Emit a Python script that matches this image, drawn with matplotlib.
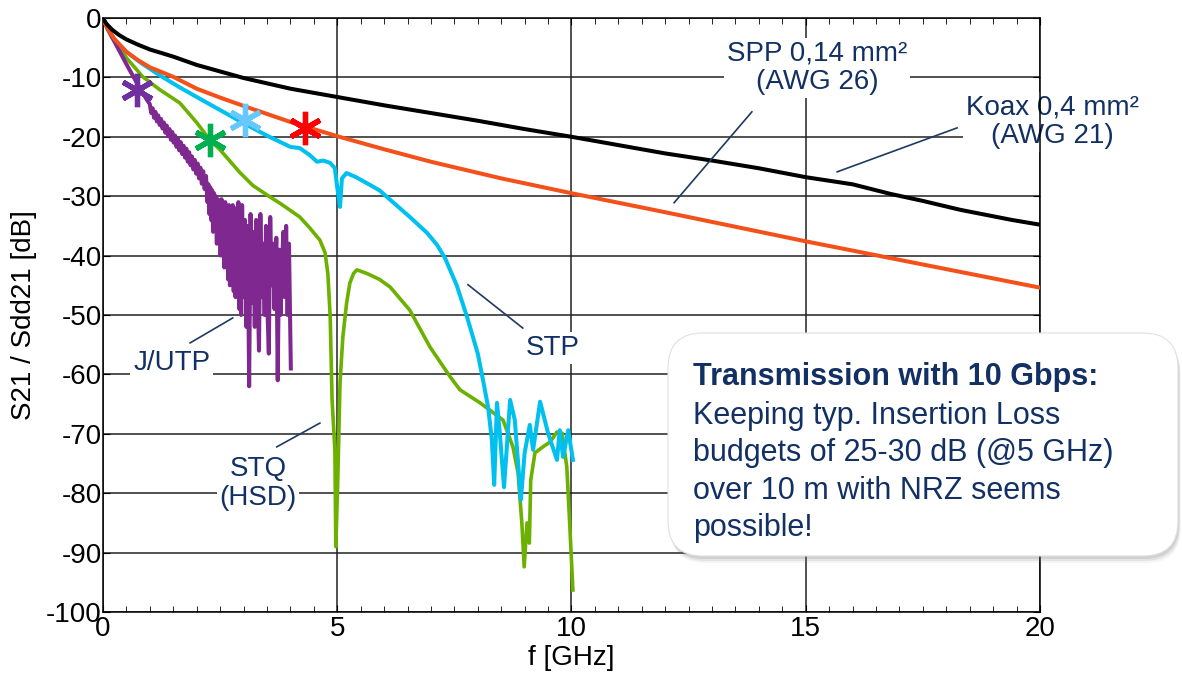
import matplotlib
matplotlib.use('Agg')
import matplotlib.pyplot as plt
import matplotlib.patches as mpatches
from matplotlib.transforms import IdentityTransform
from matplotlib.ticker import MultipleLocator

plt.rcParams['font.family'] = ['Liberation Sans', 'DejaVu Sans']
plt.rcParams['axes.unicode_minus'] = False

# Koax 0,4 mm² (AWG 21)
koax_f = [0, 0.05, 0.1, 0.2, 0.35, 0.5, 0.75, 1.0, 1.5, 2.0, 2.5, 3.0, 3.5, 4.0, 5, 6, 7, 8, 9, 10, 11, 12,
          13, 14, 15, 16, 16.8, 17.5, 18.3, 19.4, 20]
koax_db = [0, -0.7, -1.2, -2.0, -2.9, -3.6, -4.5, -5.3, -6.5, -7.9, -9.0, -10.1, -11.0, -11.9, -13.3, -14.7,
           -16.0, -17.3, -18.7, -20.0, -21.4, -22.8, -24.0, -25.3, -26.8, -28.0, -29.6, -30.8, -32.3, -34.0,
           -34.8]

# SPP 0,14 mm² (AWG 26)
spp_f = [0, 0.05, 0.1, 0.25, 0.5, 0.75, 1.0, 1.5, 2, 2.5, 3, 4, 5, 6, 7, 8.5, 10, 12, 15, 17.5, 20]
spp_db = [0, -1.0, -1.8, -3.6, -5.7, -7.1, -8.3, -9.9, -11.9, -13.4, -14.8, -17.5, -19.9, -22.1, -24.2,
          -27.0, -29.5, -32.7, -37.6, -41.5, -45.4]

# STP
stp_f = [0, 0.1, 0.25, 0.5, 0.8, 1.2, 1.6, 2.0, 2.5, 3.0, 3.5, 4.0, 4.2, 4.4, 4.57, 4.7, 4.85, 4.95, 5.0,
         5.06, 5.1, 5.2, 5.4, 5.63, 5.9, 6.13, 6.55, 6.92, 7.13, 7.3, 7.55, 7.77, 8.0, 8.11, 8.22, 8.3,
         8.35, 8.41, 8.47, 8.56, 8.69, 8.79, 8.92, 9.0, 9.11, 9.18, 9.33, 9.5, 9.69, 9.75, 9.82, 9.93,
         10.03]
stp_db = [0, -1.8, -3.6, -5.7, -7.5, -9.6, -11.5, -13.3, -15.5, -17.7, -19.8, -21.7, -21.9, -23.0, -24.2,
          -24.0, -24.4, -25.3, -28.5, -31.8, -27.0, -26.1, -26.8, -27.8, -29.0, -30.6, -33.5, -36.2, -38.2,
          -40.4, -45.0, -50.3, -56.5, -60.9, -65.5, -71.0, -78.6, -64.8, -69.9, -79.0, -64.3, -67.7, -81.1,
          -73.2, -68.5, -72.7, -64.6, -69.9, -74.4, -69.4, -73.9, -69.4, -74.4]

# STQ (HSD)
stq_f = [0, 0.1, 0.2, 0.5, 0.85, 1.2, 1.64, 2.0, 2.28, 2.5, 2.92, 3.2, 3.56, 3.78, 4.0, 4.2, 4.42, 4.63,
         4.74, 4.8, 4.85, 4.89, 4.95, 4.97, 5.01, 5.06, 5.12, 5.2, 5.27, 5.35, 5.42, 5.63, 5.9, 6.13, 6.55,
         6.98, 7.41, 7.62, 8.05, 8.54, 8.75, 8.86, 8.94, 8.99, 9.05, 9.1, 9.13, 9.22, 9.39, 9.54, 9.69,
         9.8, 9.9, 9.95, 10.03]
stq_db = [0, -1.9, -3.4, -6.7, -9.9, -12.0, -14.3, -17.6, -20.5, -22.2, -26.0, -28.2, -30.1, -31.2, -32.4,
          -33.5, -35.4, -37.4, -39.5, -43.0, -50.3, -64.3, -72.7, -89.0, -78.3, -61.4, -53.7, -48.0, -44.6,
          -43.0, -42.4, -43.0, -44.0, -45.3, -49.2, -55.4, -60.4, -62.6, -64.8, -67.7, -72.2, -76.6, -85.0,
          -92.4, -85.0, -88.4, -77.8, -73.2, -72.2, -71.4, -69.7, -69.9, -75.6, -83.3, -96.3]

# J/UTP
utp_f = [0, 0.1, 0.26, 0.53, 0.73, 0.94,
         1.00, 1.03, 1.06, 1.09, 1.12, 1.15, 1.18, 1.21, 1.24, 1.27, 1.30, 1.33, 1.36, 1.39, 1.42, 1.45,
         1.48, 1.51, 1.54, 1.57, 1.60, 1.63, 1.66, 1.69, 1.72, 1.75, 1.78, 1.81, 1.84, 1.87, 1.90, 1.93,
         1.96, 1.99, 2.02, 2.05, 2.08, 2.11, 2.14, 2.17, 2.20,
         2.23, 2.25, 2.27, 2.29, 2.31, 2.33, 2.35, 2.37, 2.39, 2.41, 2.43, 2.45, 2.47, 2.49, 2.51, 2.53,
         2.55, 2.57, 2.59, 2.61, 2.63, 2.65, 2.67, 2.69, 2.71, 2.73, 2.75, 2.77, 2.79, 2.81, 2.83, 2.85,
         2.87, 2.89, 2.91, 2.93, 2.95, 2.97, 3.00, 3.03, 3.06, 3.09, 3.12, 3.15, 3.18, 3.21, 3.24, 3.27,
         3.30, 3.33, 3.36, 3.39, 3.42, 3.45, 3.48, 3.51, 3.54, 3.57, 3.60, 3.63, 3.66, 3.70, 3.73, 3.76,
         3.79, 3.82, 3.85, 3.88, 3.91, 3.94, 3.97, 4.01]
utp_db = [0, -1.8, -4.2, -8.2, -11.0, -13.8,
          -14.5, -16.0, -15.2, -16.8, -15.8, -17.4, -16.4, -18.0, -17.0, -18.6, -17.6, -19.3, -18.1, -19.9,
          -18.7, -20.5, -19.2, -21.0, -19.8, -21.7, -20.3, -22.3, -20.9, -22.9, -21.5, -23.5, -22.0, -24.2,
          -22.6, -24.8, -23.3, -25.5, -23.9, -26.2, -24.5, -27.0, -25.2, -27.9, -25.8, -28.8, -26.6,
          -31, -28, -33, -28.5, -34, -29, -36, -29.5, -35, -30, -38, -30.5, -37, -31, -40, -30.5,
          -39, -31.5, -42, -31, -41, -32, -44, -31.5, -45, -33, -43, -31.5, -46, -32, -47, -33.5,
          -45, -31, -49, -33, -50, -31.5, -47, -34, -52, -35, -62, -33, -48, -36, -52, -34,
          -45, -56, -33, -47, -38, -50, -35, -49, -56.5, -33.5, -45, -38, -49, -37, -61, -39,
          -50, -42, -36, -47, -35, -50, -38, -59]

# asterisk markers
star_f = [0.73, 2.28, 3.03, 4.31]
star_db = [-12.1, -20.5, -17.2, -18.5]
star_colors = ['#7030a0', '#00b050', '#66c8ff', '#ff0000']

txt_col = '#123063'

fig = plt.figure(figsize=(11.82, 6.79), dpi=100)
ax = fig.add_axes([0.0871, 0.0987, 0.7928, 0.8748])

ax.plot(stq_f, stq_db, color='#6cb000', lw=2.6, zorder=3)
ax.plot(stp_f, stp_db, color='#00c0f0', lw=2.9, zorder=4)
ax.plot(utp_f, utp_db, color='#7f2890', lw=2.9, zorder=5)
ax.plot(spp_f, spp_db, color='#f4501a', lw=2.9, zorder=6)
ax.plot(koax_f, koax_db, color='black', lw=2.9, zorder=7)
for f, d, c in zip(star_f, star_db, star_colors):
    ax.plot(f, d, marker=(6, 2, 0), ms=24, mew=3.8, color=c, zorder=8)

ax.set_xlim(0, 20)
ax.set_ylim(-100, 0)
ax.xaxis.set_major_locator(MultipleLocator(5))
ax.xaxis.set_minor_locator(MultipleLocator(0.5))
ax.yaxis.set_major_locator(MultipleLocator(10))
ax.grid(True, which='major', color='#222222', lw=1.1, zorder=1)
ax.tick_params(which='both', direction='in', top=True, right=True, labelsize=20, pad=3, colors='black')
ax.tick_params(which='major', length=5)
ax.tick_params(which='minor', length=4)
ax.tick_params(axis='y', pad=1)
for s in ax.spines.values():
    s.set_linewidth(1.1)
ax.set_xlabel('f [GHz]', fontsize=20, labelpad=2)
ax.set_ylabel('S21 / Sdd21 [dB]', fontsize=20, labelpad=6)

wbox = dict(facecolor='white', edgecolor='none', pad=2)
labels = [
    ('SPP 0,14 mm²\n(AWG 26)', 15.24, -8.4, (13.85, -15.8), (12.19, -31.1)),
    ('Koax 0,4 mm²\n(AWG 21)', 20.26, -17.5, (18.23, -18.5), (15.67, -25.9)),
    ('STP', 9.6, -55.6, (8.96, -52.2), (7.79, -44.9)),
    ('J/UTP', 1.47, -58.1, (1.86, -54.7), (2.77, -50.5)),
    ('STQ\n(HSD)', 3.31, -78.3, (3.71, -72.2), (4.63, -68.2)),
]
for txt, tx, ty, p0, p1 in labels:
    ax.plot([p0[0], p1[0]], [p0[1], p1[1]], color='#1f3a60', lw=1.2, zorder=9, clip_on=False)
    ax.text(tx, ty, txt, fontsize=20, color=txt_col, ha='center', va='center', linespacing=1.15,
            bbox=wbox, zorder=2, clip_on=False)

# callout box
for k, a in [(7, 0.08), (5, 0.12), (3, 0.18)]:
    sh = mpatches.FancyBboxPatch((668 + k * 0.4, 123 - k), 510, 223, boxstyle='round,pad=0,rounding_size=35',
                                 transform=IdentityTransform(), facecolor='#777777', edgecolor='none',
                                 alpha=a, zorder=10)
    fig.add_artist(sh)
box = mpatches.FancyBboxPatch((668, 123), 510, 223, boxstyle='round,pad=0,rounding_size=35',
                              transform=IdentityTransform(), facecolor='white', edgecolor='#e0e0e0',
                              lw=0.8, zorder=11)
fig.add_artist(box)

box_lines = ['Transmission with 10 Gbps:', 'Keeping typ. Insertion Loss', 'budgets of 25-30 dB (@5 GHz)',
             'over 10 m with NRZ seems', 'possible!']
line_y = [377, 416, 453, 491, 528]
for i, (ln, py) in enumerate(zip(box_lines, line_y)):
    fig.text(693 / 1182, 1 - py / 679, ln, fontsize=22, color=txt_col, ha='left', va='center',
             fontweight='bold' if i == 0 else 'normal', zorder=12)

fig.savefig('out.png', dpi=100)
